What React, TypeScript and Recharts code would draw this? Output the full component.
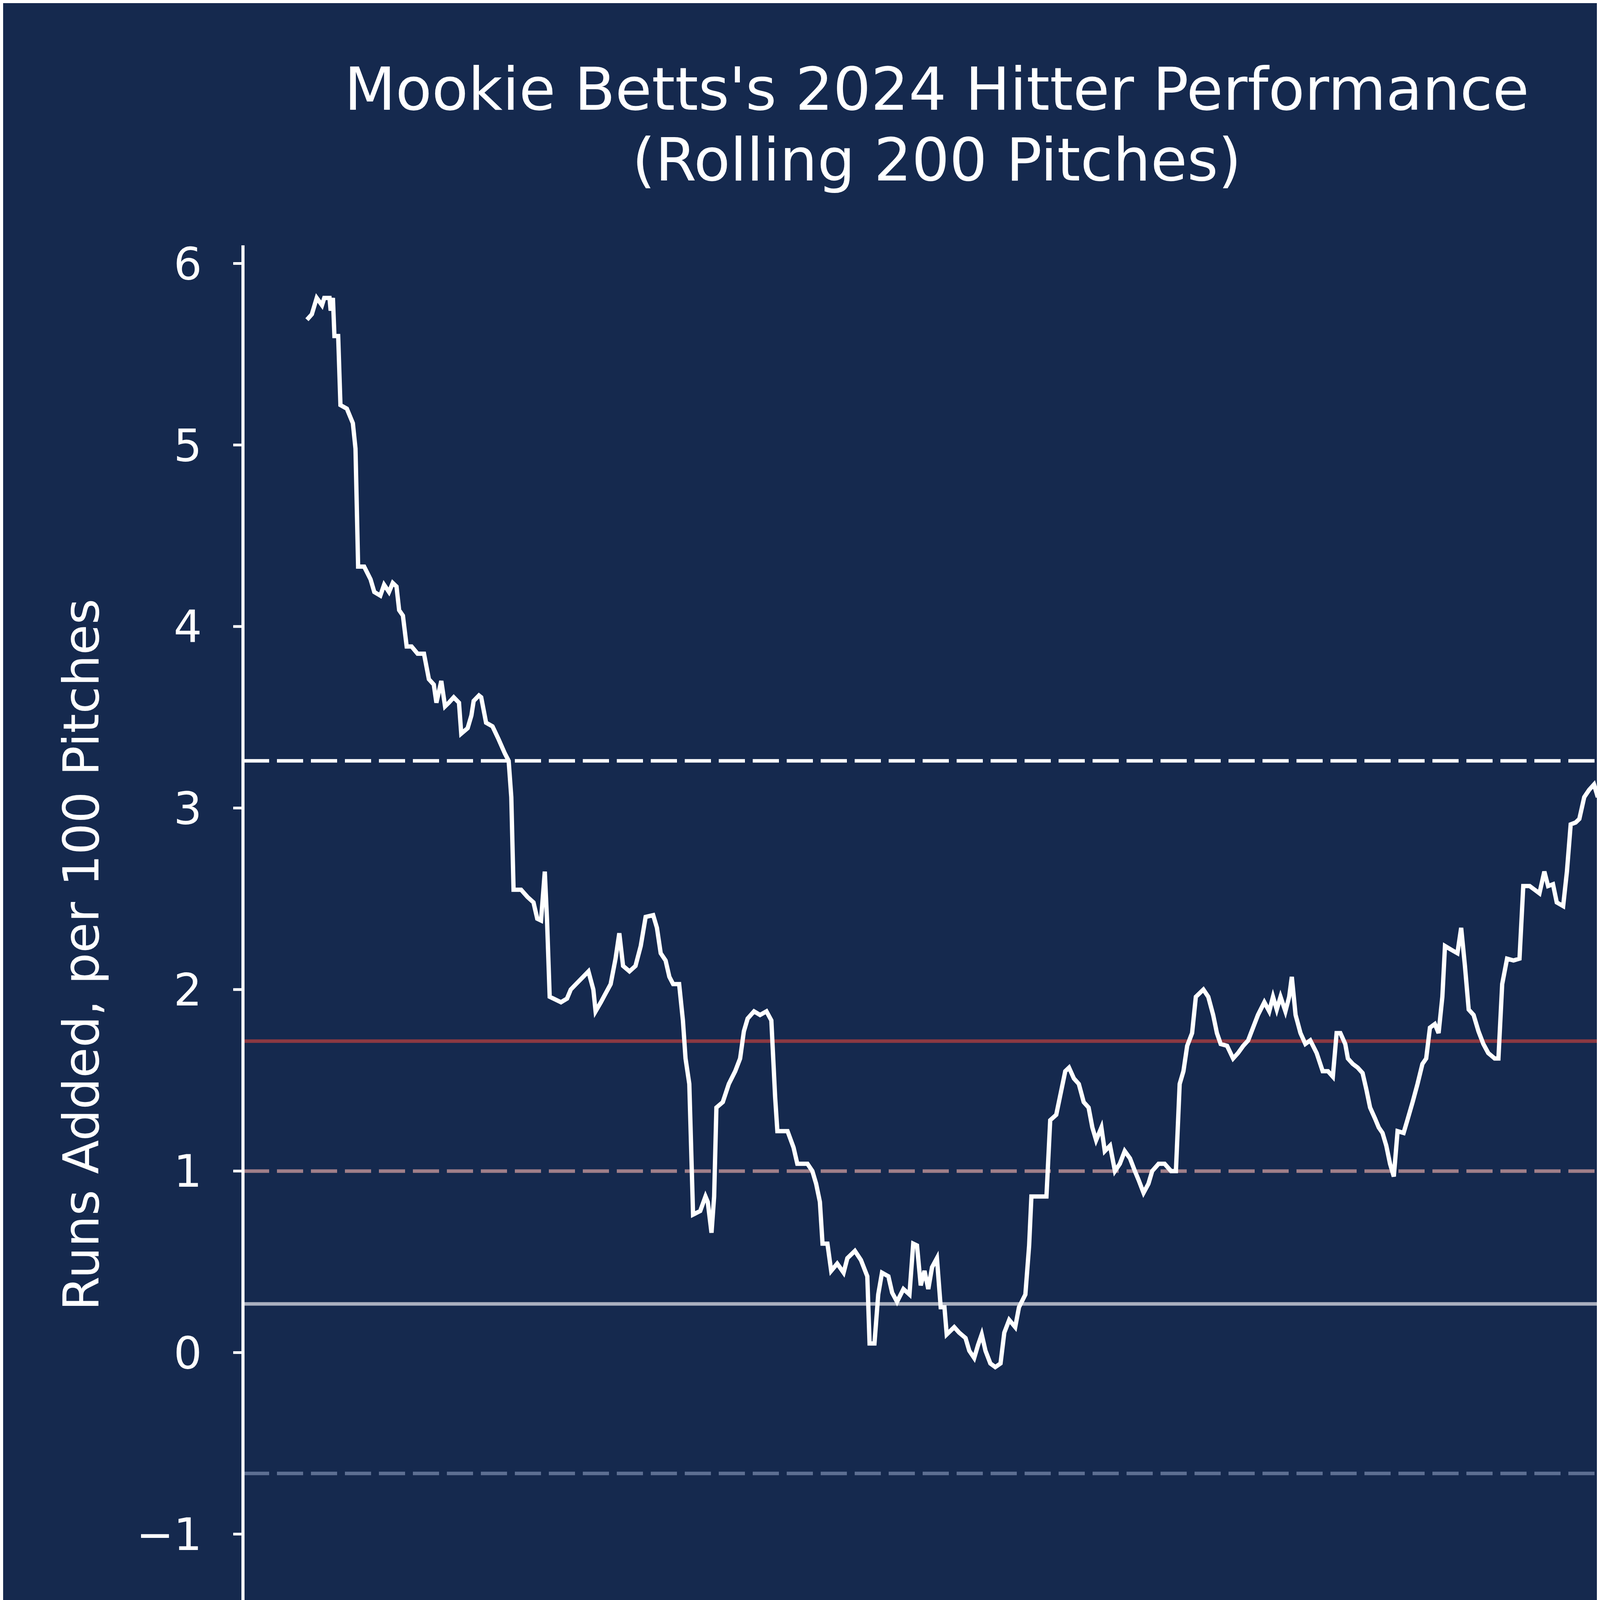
import { LineChart, Line, XAxis, YAxis, ReferenceLine } from 'recharts';

// rolling 200-pitch runs added
const pitches = [
  200, 201.3, 202.6, 204, 204.6, 206, 206.3, 206.9, 207.3, 208.3, 208.9, 210.6, 212.2, 212.9, 213.6, 215.2,
  216.9, 217.9, 219.5, 220.5, 221.8, 222.8, 223.8, 224.5, 225.5, 226.5, 227.8, 229.4, 231.1, 232.4, 233.7,
  234.4, 235.7, 236.7, 237.7, 239, 240.4, 241, 242.7, 243.7, 244.3, 245.7, 246.3, 247.6, 249.3, 250.9, 252.6,
  253.6, 254.3, 254.9, 256.9, 258.6, 260.2, 261.2, 262.2, 263.2, 263.8, 264.5, 267.5, 269.1, 270.1, 271.5,
  273.4, 274.8, 276.1, 276.7, 278.1, 279.4, 280.7, 282, 283, 284, 285.7, 287.3, 288.7, 290, 292, 293, 294,
  295.3, 296.3, 297.3, 298.9, 299.9, 300.6, 301.6, 302.6, 304.5, 305.9, 306.5, 307.5, 308.2, 308.8, 310.5,
  312.1, 313.8, 315.1, 316.1, 317.1, 318.8, 320.4, 322.1, 323.4, 324.4, 325, 327.7, 329.3, 330.3, 333, 334.3,
  335.3, 336.3, 337, 338.3, 339.3, 340.9, 342.6, 343.6, 345.6, 347.2, 348.9, 349.5, 350.8, 351.8, 352.8,
  354.5, 355.5, 356.8, 358.5, 360.1, 361.1, 362.1, 363.1, 364.1, 365.1, 366.1, 367.4, 368.4, 369.4, 370,
  372, 373.3, 375, 376, 377.3, 378.3, 379.3, 380.3, 381.6, 382.9, 384.3, 385.3, 386.6, 388.2, 389.2, 390.9,
  391.9, 392.5, 395.2, 396.5, 397.5, 399.1, 400.1, 401.5, 402.5, 403.8, 405.1, 406.4, 407.7, 408.7, 409.7,
  411.1, 412, 413.4, 414.7, 416, 417.3, 418.7, 420, 421, 422.3, 423.6, 424.6, 426.3, 427.9, 429.6, 430.9,
  431.9, 432.9, 433.9, 435.2, 436.2, 438.2, 439.5, 440.8, 441.8, 442.8, 444.5, 446.1, 447.4, 448.8, 450.1,
  451.4, 452.7, 454.4, 455.7, 456.7, 457.7, 458.7, 460, 461, 461.7, 462.7, 464, 465.3, 466.6, 468.3, 469.9,
  471.3, 472.6, 473.6, 474.6, 475.9, 476.6, 477.9, 479.2, 480.5, 481.5, 482.5, 483.8, 484.8, 485.8, 486.8,
  487.8, 488.8, 489.8, 491.4, 492.4, 493.8, 495.1, 496.4, 497.4, 498.4, 499.7, 500.7, 501.7, 502.4, 504,
  505.7, 506.7, 507.7, 508.7, 510, 511.3, 512.6, 513.9, 515.6, 516.6, 517.6, 518.9, 520.6, 522.2, 523.2,
  524.9, 526.2, 527.5, 528.8, 529.8, 531.1, 532.1, 533.8, 534.8, 535.8, 537.1, 538.1, 539.4, 540.7, 542,
  543, 543.7, 544.4, 545, 545.4, 546,
];
const runsAdded = [
  5.69, 5.72, 5.81, 5.77, 5.81, 5.81, 5.74, 5.81, 5.6, 5.6, 5.22, 5.2, 5.12, 4.98, 4.33, 4.33,
  4.26, 4.19, 4.17, 4.23, 4.19, 4.24, 4.22, 4.09, 4.06, 3.89, 3.89, 3.85, 3.85, 3.71, 3.68,
  3.58, 3.7, 3.56, 3.58, 3.61, 3.58, 3.41, 3.44, 3.51, 3.59, 3.62, 3.61, 3.47, 3.45, 3.38, 3.3,
  3.26, 3.06, 2.55, 2.55, 2.51, 2.48, 2.39, 2.38, 2.65, 2.38, 1.96, 1.93, 1.95, 2.0, 2.03,
  2.07, 2.1, 2.0, 1.88, 1.93, 1.98, 2.03, 2.17, 2.31, 2.13, 2.1, 2.13, 2.24, 2.4, 2.41, 2.34, 2.2,
  2.16, 2.07, 2.03, 2.03, 1.83, 1.62, 1.48, 0.76, 0.78, 0.86, 0.83, 0.66, 0.86, 1.35, 1.38,
  1.48, 1.55, 1.62, 1.77, 1.84, 1.88, 1.86, 1.88, 1.83, 1.41, 1.22, 1.22, 1.13, 1.04, 1.04, 1.0,
  0.93, 0.83, 0.6, 0.6, 0.45, 0.49, 0.44, 0.52, 0.56, 0.51, 0.42, 0.05, 0.05, 0.32, 0.44,
  0.42, 0.33, 0.28, 0.35, 0.32, 0.6, 0.59, 0.37, 0.45, 0.35, 0.47, 0.52, 0.25, 0.25, 0.1,
  0.14, 0.11, 0.08, 0.01, -0.03, 0.04, 0.1, 0.01, -0.06, -0.08, -0.06, 0.11, 0.18, 0.14, 0.25, 0.32,
  0.59, 0.86, 0.86, 0.86, 1.28, 1.31, 1.41, 1.55, 1.57, 1.51, 1.48, 1.38, 1.35, 1.24, 1.17,
  1.24, 1.11, 1.14, 1.0, 1.04, 1.11, 1.07, 1.0, 0.95, 0.88, 0.93, 1.0, 1.04, 1.04, 1.0, 1.0,
  1.48, 1.55, 1.69, 1.76, 1.96, 2.0, 1.96, 1.86, 1.76, 1.7, 1.69, 1.62, 1.65, 1.69, 1.72,
  1.79, 1.86, 1.93, 1.88, 1.96, 1.89, 1.96, 1.88, 1.96, 2.07, 1.86, 1.76, 1.7, 1.72, 1.65, 1.55,
  1.55, 1.52, 1.76, 1.76, 1.7, 1.62, 1.59, 1.57, 1.54, 1.45, 1.35, 1.29, 1.24, 1.21, 1.14,
  1.04, 0.97, 1.22, 1.21, 1.28, 1.38, 1.48, 1.59, 1.62, 1.79, 1.81, 1.76, 1.96, 2.24, 2.22,
  2.2, 2.34, 2.13, 1.89, 1.86, 1.77, 1.7, 1.65, 1.62, 1.62, 2.03, 2.17, 2.16, 2.17, 2.57,
  2.57, 2.55, 2.53, 2.65, 2.57, 2.58, 2.48, 2.46, 2.65, 2.91, 2.92, 2.94, 3.06, 3.1, 3.13,
  3.06, 3.13, 2.8, 2.8, 3.16, 3.2,
];

const xTicks = [200, 250, 300, 350, 400, 450, 500, 550];
const yTicks = [-1, 0, 1, 2, 3, 4, 5, 6];

const benchmarkNames = ['Szn Avg', '90th %', '75th %', 'MLB Avg', '25th %', '10th %'];
const benchmarkValues = [3.26, 1.716, 1.0, 0.268, -0.666, -1.442];

const benchmarkStyles = [
  { line: '#ffffff', text: '#ffffff', dash: '67 20' },
  { line: '#8c3942', text: '#b4464a', dash: undefined },
  { line: '#a07f89', text: '#d6a09c', dash: '67 20' },
  { line: '#aab0bf', text: '#c4c9d4', dash: undefined },
  { line: '#5d6f92', text: '#97a8c6', dash: '67 20' },
  { line: '#2b5faa', text: '#4f7cc2', dash: undefined },
];

const data = pitches.map((p, i) => ({ pitch: p, runs: runsAdded[i] }));

const W = 5000;
const H = 4992;
const BG = '#15294e';
const FONT = '"DejaVu Sans", sans-serif';
const LOGO_FONT = '"Open Sans", sans-serif';

export default function App() {
  return (
    <div style={{ position: 'relative', width: W, height: H, margin: -8, background: BG, fontFamily: FONT }}>
      <LineChart
        width={W}
        height={H}
        data={data}
        margin={{ top: 628, right: 717, bottom: 312, left: 222 }}
      >
        <XAxis
          dataKey="pitch"
          type="number"
          domain={[183, 563]}
          ticks={xTicks}
          allowDataOverflow
          height={420}
          axisLine={{ stroke: '#ffffff', strokeWidth: 8 }}
          tickLine={{ stroke: '#ffffff', strokeWidth: 7 }}
          tickSize={25}
          tickMargin={84}
          tick={{ fill: '#ffffff', fontSize: 114, fontFamily: FONT }}
          label={{ value: 'Pitches', position: 'insideBottom', offset: 37, fill: '#ffffff', fontSize: 127, fontFamily: FONT }}
        />
        <YAxis
          type="number"
          domain={[-1.716, 6.1]}
          ticks={yTicks}
          allowDataOverflow
          width={400}
          axisLine={{ stroke: '#ffffff', strokeWidth: 8 }}
          tickLine={{ stroke: '#ffffff', strokeWidth: 7 }}
          tickSize={25}
          tickMargin={80}
          tickFormatter={(v: number) => (v < 0 ? `\u2212${Math.abs(v)}` : `${v}`)}
          tick={{ fill: '#ffffff', fontSize: 114, fontFamily: FONT }}
        />
        {benchmarkNames.map((name, i) => (
          <ReferenceLine
            key={name}
            y={benchmarkValues[i]}
            stroke={benchmarkStyles[i].line}
            strokeWidth={9}
            strokeDasharray={benchmarkStyles[i].dash}
            label={{
              value: name,
              position: 'right',
              offset: 6,
              fill: benchmarkStyles[i].text,
              fontSize: 127,
              fontFamily: FONT,
            }}
          />
        ))}
        <Line
          type="linear"
          dataKey="runs"
          stroke="#ffffff"
          strokeWidth={11}
          dot={false}
          activeDot={false}
          isAnimationActive={false}
        />
      </LineChart>

      <svg
        width={W}
        height={H}
        style={{ position: 'absolute', left: 0, top: 0, pointerEvents: 'none' }}
      >
        <text x={2398} y={281} textAnchor="middle" fill="#ffffff" fontSize={152} fontFamily={FONT}>
          Mookie Betts's 2024 Hitter Performance
        </text>
        <text x={2398} y={462} textAnchor="middle" fill="#ffffff" fontSize={152} fontFamily={FONT}>
          (Rolling 200 Pitches)
        </text>
        <text
          x={252}
          y={2444}
          transform="rotate(-90, 252, 2444)"
          textAnchor="middle"
          fill="#ffffff"
          fontSize={127}
          fontFamily={FONT}
        >
          Runs Added, per 100 Pitches
        </text>

        {/* pitcher list mark */}
        <rect x={3845} y={4600} width={38} height={118} fill="#ffffff" />
        <path
          d="M 3840 4560 H 3930 A 45 42 0 0 1 3930 4644 H 3895"
          fill="none"
          stroke="#ffffff"
          strokeWidth={36}
        />
        <text x={4052} y={4680} fontSize={116} fontFamily={LOGO_FONT} fontWeight={700} fill="#ffffff" textLength={448} lengthAdjust="spacingAndGlyphs">
          PITCHER
        </text>
        <text x={4506} y={4680} fontSize={116} fontFamily={LOGO_FONT} fontWeight={400} fill="#c7ccd6" textLength={218} lengthAdjust="spacingAndGlyphs">
          LIST
        </text>
      </svg>
    </div>
  );
}
